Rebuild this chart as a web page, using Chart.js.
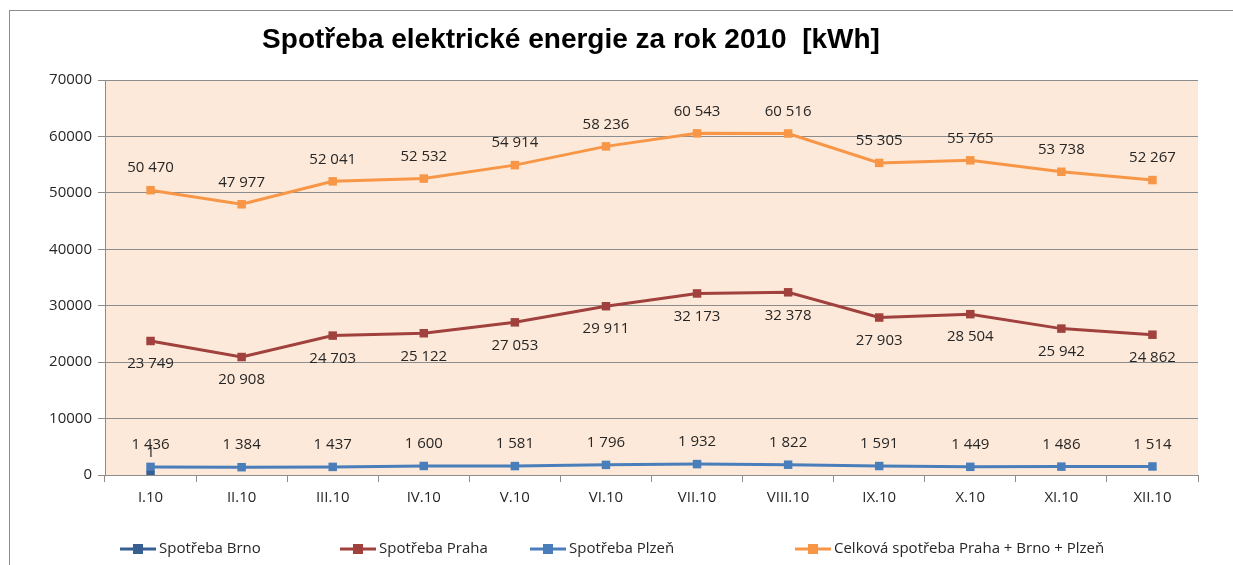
<!DOCTYPE html>
<html><head><meta charset="utf-8">
<script src="https://cdn.jsdelivr.net/npm/chart.js@4/dist/chart.umd.min.js"></script>
<style>html,body{margin:0;padding:0;background:#fff;overflow:hidden}#wrap{width:1233px;height:565px;position:relative}</style>
</head><body><div id="wrap"><canvas id="c" width="1233" height="565"></canvas></div>
<script>
const categories = ['I.10','II.10','III.10','IV.10','V.10','VI.10','VII.10','VIII.10','IX.10','X.10','XI.10','XII.10'];
const brno = [1,null,null,null,null,null,null,null,null,null,null,null];
const praha = [23749,20908,24703,25122,27053,29911,32173,32378,27903,28504,25942,24862];
const plzen = [1436,1384,1437,1600,1581,1796,1932,1822,1591,1449,1486,1514];
const celkem = [50470,47977,52041,52532,54914,58236,60543,60516,55305,55765,53738,52267];
const yTicks = [0,10000,20000,30000,40000,50000,60000,70000];
const seriesNames = ['Spotřeba Brno','Spotřeba Praha','Spotřeba Plzeň','Celková spotřeba Praha + Brno + Plzeň'];
const colors = ['#375F92','#A0413E','#4A7EBB','#F79646'];
const labelPos = ['above','below','above','above'];
const legendX = [120,340,530,795];

const fmt = v => String(v).replace(/\B(?=(\d{3})+(?!\d))/g, ' ');

const FONT = '"Open Sans", "Liberation Sans", sans-serif';

const deco = {
  id:'deco',
  beforeDraw(chart){
    const {ctx, chartArea:a} = chart;
    ctx.save();
    ctx.fillStyle='#FDE9D9';
    ctx.fillRect(a.left,a.top,a.right-a.left,a.bottom-a.top);
    ctx.strokeStyle='#8C8C8C'; ctx.lineWidth=1;
    ctx.strokeRect(9.5,10.5,1400,700);
    ctx.restore();
  },
  afterDraw(chart){
    const {ctx} = chart;
    ctx.save();
    ctx.font='bold 28px "Liberation Sans", Arial, sans-serif';
    ctx.fillStyle='#000'; ctx.textAlign='center'; ctx.textBaseline='middle';
    ctx.fillText('Spotřeba elektrické energie za rok 2010  [kWh]', 571, 40);
    ctx.font='15px '+FONT; ctx.fillStyle='#262626';
    chart.data.datasets.forEach((ds,i)=>{
      const meta = chart.getDatasetMeta(i);
      const si = seriesNames.indexOf(ds.label);
      meta.data.forEach((pt,j)=>{
        const v = ds.data[j]; if(v==null) return;
        const dy = labelPos[si]==='above' ? -22 : 23;
        ctx.fillText(fmt(v), pt.x, pt.y+dy);
      });
    });
    ctx.font='15px '+FONT; ctx.textAlign='left';
    seriesNames.forEach((n,i)=>{
      const x=legendX[i], y=549;
      ctx.strokeStyle=colors[i]; ctx.lineWidth=3;
      ctx.beginPath(); ctx.moveTo(x,y); ctx.lineTo(x+36,y); ctx.stroke();
      ctx.fillStyle=colors[i]; ctx.fillRect(x+13,y-5,10,10);
      ctx.fillStyle='#262626'; ctx.fillText(n, x+39, y);
    });
    ctx.restore();
  }
};

const mk = (i,data)=>({label:seriesNames[i],data,borderColor:colors[i],backgroundColor:colors[i],
  borderWidth:3,pointStyle:'rect',pointRadius:6,pointBorderWidth:0,pointHoverRadius:6,tension:0,spanGaps:false});

new Chart(document.getElementById('c'),{
  type:'line',
  data:{labels:categories,datasets:[mk(3,celkem),mk(1,praha),mk(0,brno),mk(2,plzen)]},
  options:{
    responsive:false,animation:false,
    layout:{padding:{left:0,right:35,top:80,bottom:50}},
    plugins:{legend:{display:false},title:{display:false},tooltip:{enabled:false}},
    scales:{
      x:{offset:true,
        grid:{offset:true,drawOnChartArea:false,drawTicks:true,tickLength:7,color:'#8C8C8C'},
        border:{color:'#8C8C8C'},
        ticks:{font:{family:FONT,size:15},color:'#262626',padding:7},
        afterFit(s){s.height=40;}
      },
      y:{min:0,max:70000,
        afterBuildTicks(s){s.ticks=yTicks.map(v=>({value:v}));},
        grid:{color:'#8C8C8C',tickLength:7},
        border:{color:'#8C8C8C'},
        ticks:{font:{family:FONT,size:15},color:'#262626',padding:6,callback:v=>String(v)},
        afterFit(s){s.width=105;}
      }
    }
  },
  plugins:[deco]
});
</script></body></html>
